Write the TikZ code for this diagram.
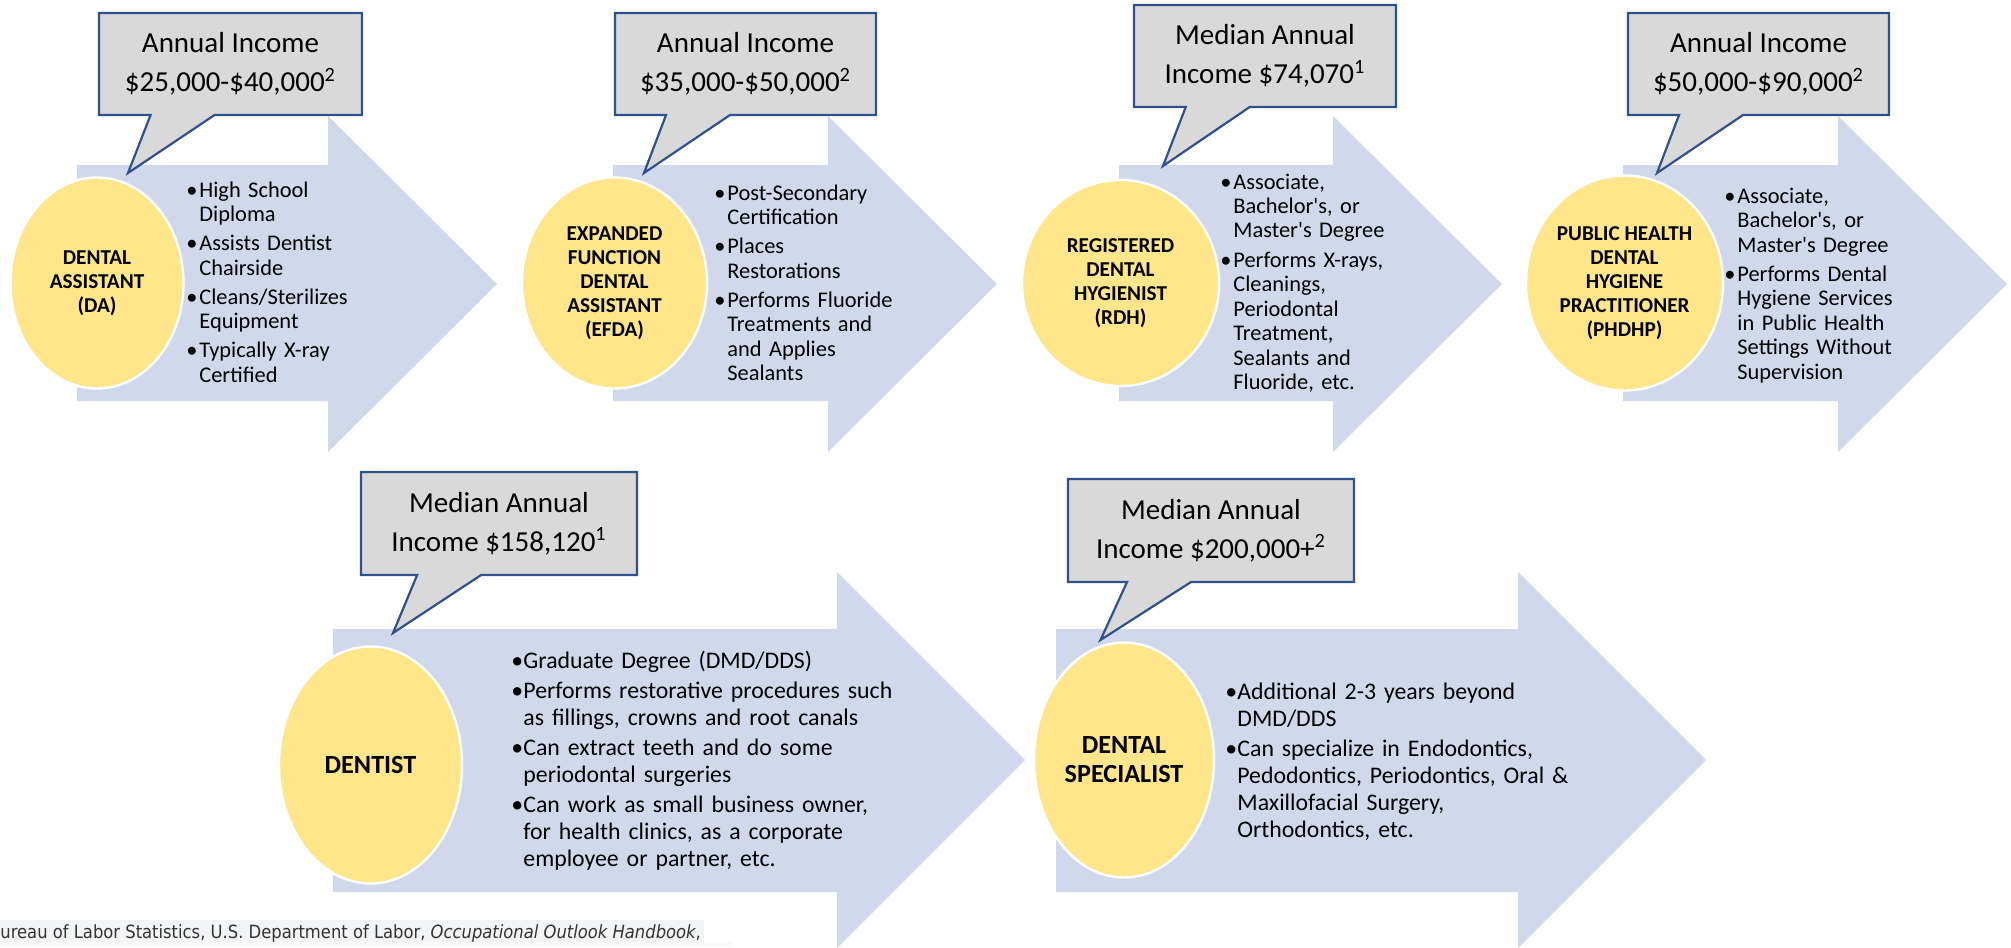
\documentclass[tikz,border=0pt]{standalone}
\usepackage{fontspec}
\setmainfont{Carlito}
\newfontfamily\notefont[FakeStretch=0.9]{DejaVu Sans}
\usetikzlibrary{shapes.geometric,shapes.callouts}

\definecolor{arrowblue}{RGB}{210,216,236}
\definecolor{roleyellow}{RGB}{255,230,138}
\definecolor{paygray}{RGB}{217,217,217}
\definecolor{payline}{RGB}{47,82,143}
\definecolor{notegray}{RGB}{243,244,246}
\definecolor{notetext}{RGB}{51,51,51}

\newlength{\bulhang}
\newcommand{\bulstart}{\hangindent=\bulhang\hangafter=1\noindent\makebox[\bulhang][l]{\textbullet}}
\newcommand{\bul}{\par\bulstart}
\newcommand{\nl}{\newline}
\newcommand{\apos}{\textquotesingle}

\begin{document}
\begin{tikzpicture}[x=0.5pt,y=-0.5pt,
  role/.style={ellipse, fill=roleyellow, draw=white, line width=1.2pt, inner sep=0pt,
    align=center, font=\bfseries\fontsize{10.6}{12}\selectfont},
  bigrole/.style={role, font=\bfseries\fontsize{13.1}{14.5}\selectfont},
  pay/.style={rectangle callout, fill=paygray, draw=payline, line width=1.1pt, inner sep=0pt,
    callout pointer width=32pt, align=center, font=\fontsize{14.5}{19.5}\selectfont},
  duty/.style={anchor=base west, inner sep=0pt, text width=200pt,
    font={\fontsize{11.2}{12.25}\selectfont\setlength{\parskip}{2.25pt}\setlength{\bulhang}{6.5pt}}},
  bigduty/.style={duty, font={\fontsize{11.9}{13.5}\selectfont\setlength{\parskip}{1.5pt}\setlength{\bulhang}{6pt}}}]
\clip (0,0) rectangle (2011,947);

% arrows, top row
\fill[arrowblue] (77,165) -- (328,165) -- (328,116) -- (497,284) -- (328,452) -- (328,401) -- (77,401) -- cycle;
\fill[arrowblue] (613,165) -- (828,165) -- (828,116) -- (997,284) -- (828,452) -- (828,401) -- (613,401) -- cycle;
\fill[arrowblue] (1119,165) -- (1333,165) -- (1333,116) -- (1502,284) -- (1333,452) -- (1333,401) -- (1119,401) -- cycle;
\fill[arrowblue] (1623,165) -- (1838,165) -- (1838,116) -- (2007,284) -- (1838,452) -- (1838,401) -- (1623,401) -- cycle;
% arrows, bottom row
\fill[arrowblue] (333,629) -- (837,629) -- (837,572) -- (1025,760) -- (837,948) -- (837,892) -- (333,892) -- cycle;
\fill[arrowblue] (1056,629) -- (1518,629) -- (1518,572) -- (1706,760) -- (1518,948) -- (1518,892) -- (1056,892) -- cycle;

\node[role, minimum width=86.5pt, minimum height=105.5pt] (role1) at (97,283) {DENTAL\\ASSISTANT\\(DA)};
\node[role, minimum width=92.5pt, minimum height=105.5pt] (role2) at (614.5,283) {EXPANDED\\FUNCTION\\DENTAL\\ASSISTANT\\(EFDA)};
\node[role, minimum width=98.5pt, minimum height=103pt] (role3) at (1120.5,283) {REGISTERED\\DENTAL\\HYGIENIST\\(RDH)};
\node[role, minimum width=98.5pt, minimum height=107.5pt] (role4) at (1624.5,283) {PUBLIC HEALTH\\DENTAL\\HYGIENE\\PRACTITIONER\\(PHDHP)};
\node[bigrole, minimum width=91.5pt, minimum height=118.5pt] (role5) at (370.5,765) {DENTIST};
\node[bigrole, minimum width=90pt, minimum height=117.5pt] (role6) at (1124,760) {DENTAL\\SPECIALIST};

\node[pay, minimum width=131.5pt, minimum height=51pt, callout absolute pointer={(128,173)}] (pay1) at (230.5,64) {Annual Income\\\$25,000-\$40,000\textsuperscript{2}};
\node[pay, minimum width=130.5pt, minimum height=51pt, callout absolute pointer={(644,173)}] (pay2) at (745.5,64) {Annual Income\\\$35,000-\$50,000\textsuperscript{2}};
\node[pay, minimum width=131pt, minimum height=51pt, callout absolute pointer={(1163,166)}] (pay3) at (1265,56) {Median Annual\\Income \$74,070\textsuperscript{1}};
\node[pay, minimum width=130.5pt, minimum height=51pt, callout absolute pointer={(1657,173)}] (pay4) at (1758.5,64) {Annual Income\\\$50,000-\$90,000\textsuperscript{2}};
\node[pay, minimum width=138pt, minimum height=51.5pt, callout absolute pointer={(393,633)}] (pay5) at (499,523.5) {Median Annual\\Income \$158,120\textsuperscript{1}};
\node[pay, minimum width=143pt, minimum height=51.5pt, callout absolute pointer={(1100.5,640)}] (pay6) at (1211,530.5) {Median Annual\\Income \$200,000+\textsuperscript{2}};

\node[duty] (duty1) at (186,197) {\bulstart High School\nl Diploma
  \bul Assists Dentist\nl Chairside
  \bul Cleans/Sterilizes\nl Equipment
  \bul Typically X-ray\nl Certified\par};
\node[duty] (duty2) at (714,200) {\bulstart Post-Secondary\nl Certification
  \bul Places\nl Restorations
  \bul Performs Fluoride\nl Treatments and\nl and Applies\nl Sealants\par};
\node[duty] (duty3) at (1220,189) {\bulstart Associate,\nl Bachelor\apos s, or\nl Master\apos s Degree
  \bul Performs X-rays,\nl Cleanings,\nl Periodontal\nl Treatment,\nl Sealants and\nl Fluoride, etc.\par};
\node[duty] (duty4) at (1724,203) {\bulstart Associate,\nl Bachelor\apos s, or\nl Master\apos s Degree
  \bul Performs Dental\nl Hygiene Services\nl in Public Health\nl Settings Without\nl Supervision\par};
\node[bigduty] (duty5) at (511,668) {\bulstart Graduate Degree (DMD/DDS)
  \bul Performs restorative procedures such\nl as fillings, crowns and root canals
  \bul Can extract teeth and do some\nl periodontal surgeries
  \bul Can work as small business owner,\nl for health clinics, as a corporate\nl employee or partner, etc.\par};
\node[bigduty] (duty6) at (1225,699) {\bulstart Additional 2-3 years beyond\nl DMD/DDS
  \bul Can specialize in Endodontics,\nl Pedodontics, Periodontics, Oral \&\nl Maxillofacial Surgery,\nl Orthodontics, etc.\par};

% source line
\fill[notegray] (0,920) rectangle (704,942);
\fill[notegray!50] (0,942) rectangle (733,947);
\node[anchor=base west, inner sep=0pt, text=notetext, font=\notefont\fontsize{9.1}{11}\selectfont] (note) at (0,938) {ureau of Labor Statistics, U.S. Department of Labor, \textit{Occupational Outlook Handbook},};

\end{tikzpicture}
\end{document}
